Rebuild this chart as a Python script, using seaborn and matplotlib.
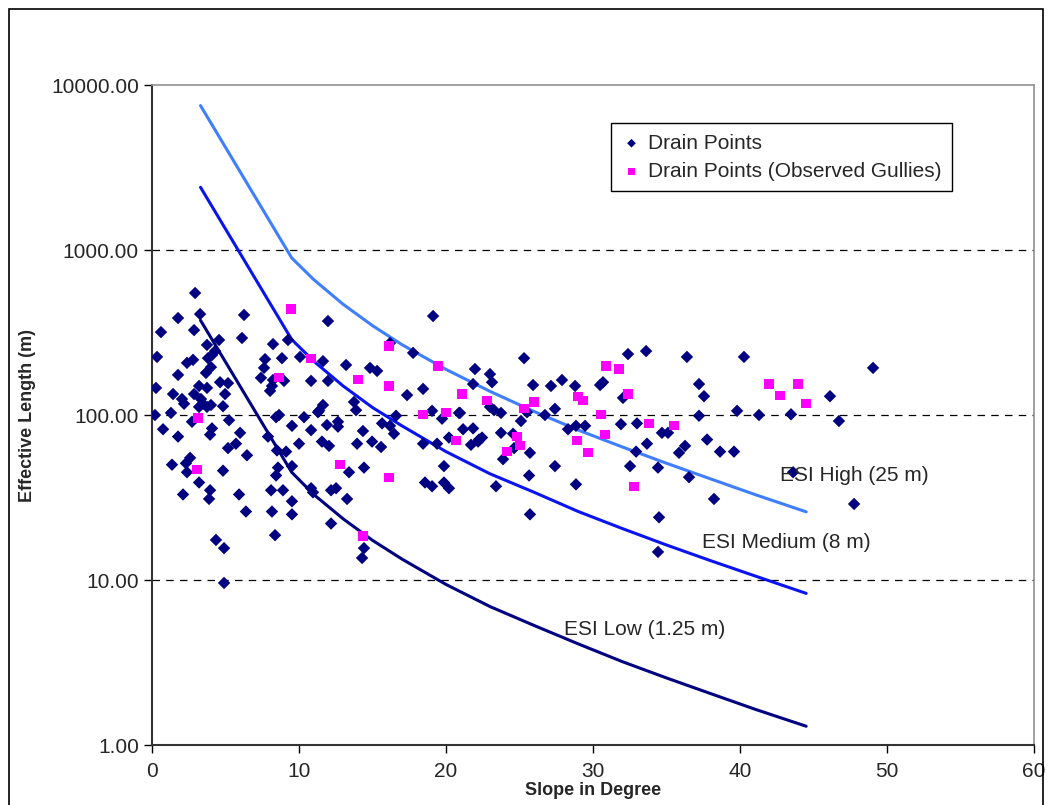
import numpy as np
import pandas as pd
import matplotlib
matplotlib.use("Agg")
import matplotlib.pyplot as plt
import seaborn as sns
from matplotlib.patches import Rectangle
from matplotlib.ticker import FixedLocator, FuncFormatter

# Drain points (slope in degree, effective length in m)
drain_slope = [
    2.93, 1.77, 3.27, 6.26, 0.61, 2.86, 6.12, 4.56, 3.74, 4.29, 4.08, 3.81, 8.23, 9.25, 0.34,
    2.79, 2.38, 4.01, 1.77, 3.67, 7.69, 8.84, 10.07, 7.62, 7.41, 8.23, 8.16, 8.03, 8.98, 10.82,
    4.63, 5.17, 3.20, 3.74, 0.27, 1.43, 2.86, 4.97, 2.04, 2.18, 3.33, 3.47, 4.01, 3.20, 3.74,
    4.83, 0.20, 1.29, 8.44, 8.64, 10.34, 11.29, 0.75, 2.72, 4.08, 5.24, 9.52, 1.77, 3.95, 5.99,
    10.82, 5.71, 5.17, 10.00, 8.50, 6.46, 7.89, 9.12, 1.36, 2.31, 2.59, 2.38, 3.20, 4.83, 8.57,
    9.52, 8.44, 2.11, 3.95, 3.88, 5.92, 8.10, 8.91, 9.52, 6.39, 8.16, 9.52, 8.37, 4.35, 4.90,
    4.90, 10.82, 11.97, 19.12, 16.19, 17.76, 11.63, 13.20, 14.83, 15.31, 21.97, 11.97, 18.44, 17.35, 21.84,
    11.63, 11.36, 13.74, 13.88, 16.60, 19.05, 19.73, 20.88, 11.90, 12.65, 12.65, 14.35, 15.65, 16.19, 16.46,
    21.16, 21.84, 11.56, 12.04, 13.95, 14.97, 15.58, 18.44, 19.39, 20.20, 21.70, 22.24, 13.40, 14.42, 19.86,
    18.57, 19.05, 19.86, 20.20, 10.95, 12.18, 12.52, 13.27, 12.18, 14.42, 14.29, 25.31, 32.38, 22.99, 23.13,
    25.92, 27.14, 27.89, 28.78, 30.68, 30.48, 32.04, 20.95, 22.99, 23.27, 23.74, 25.51, 27.41, 26.73, 25.10,
    23.74, 24.56, 28.30, 28.84, 29.46, 31.90, 32.99, 22.45, 22.18, 24.63, 23.88, 25.71, 27.41, 25.65, 28.84,
    23.40, 32.52, 32.93, 33.61, 36.39, 40.27, 37.21, 37.55, 37.21, 39.80, 41.29, 43.47, 34.69, 35.10, 33.67,
    36.26, 35.85, 37.76, 38.64, 39.59, 34.42, 36.53, 38.23, 43.61, 49.05, 46.12, 46.73, 47.76, 25.71, 34.49,
    34.42,
]
drain_length = [
    549, 387, 409, 404, 318, 327, 293, 285, 266, 244, 231, 221, 269, 285, 225,
    216, 207, 195, 175, 180, 218, 221, 225, 193, 168, 163, 150, 140, 161, 161,
    158, 156, 150, 146, 146, 134, 134, 134, 125, 117, 125, 117, 115, 112, 112,
    113, 100, 103, 97, 100, 97, 104, 82, 91, 83, 93, 86, 74, 76, 78,
    81, 67, 63, 67, 61, 57, 74, 60, 50, 51, 55, 45, 39, 46, 48,
    49, 43, 33, 35, 31, 33, 35, 35, 30, 26, 26, 25, 18.7, 17.5, 15.6,
    9.6, 36, 371, 398, 273, 238, 212, 201, 193, 185, 190, 161, 144, 132, 154,
    115, 106, 120, 107, 99, 106, 95, 103, 87, 91, 85, 80, 89, 86, 77,
    82, 83, 69, 65, 67, 69, 64, 67, 67, 73, 66, 71, 45, 48, 49,
    39, 37, 39, 36, 34, 35, 36, 31, 22, 15.6, 13.6, 221, 234, 177, 158,
    152, 150, 163, 150, 158, 152, 127, 103, 112, 107, 103, 104, 109, 100, 92,
    78, 77, 82, 86, 86, 88, 89, 73, 69, 63, 54, 59, 49, 43, 38,
    37, 49, 60, 244, 225, 225, 154, 130, 99, 106, 100, 101, 78, 78, 67,
    65, 59, 71, 60, 60, 48, 42, 31, 45, 193, 130, 92, 28.9, 25, 24,
    14.8,
]

# Drain points at observed gullies
gully_slope = [
    9.46, 10.82, 8.64, 3.13, 3.06, 16.12, 14.01, 16.12, 19.46, 21.09, 18.44, 20.00, 20.68,
    12.79, 16.12, 14.35, 22.79, 25.31, 25.99, 30.88, 31.77, 28.98, 29.32, 32.38, 30.54,
    30.82, 24.83, 25.03, 24.15, 28.91, 29.66, 32.79, 33.81, 35.51, 41.97, 42.72, 43.95, 44.49,
]
gully_length = [
    439, 221, 168, 96, 47, 262, 165, 150, 198, 134, 101, 104, 70,
    50, 42, 18.5, 122, 110, 120, 198, 190, 130, 122, 134, 101,
    76, 74, 65, 60, 70, 59, 37, 89, 86, 154, 132, 154, 118,
]

# ESI threshold curves
esi_slope = [3.3, 9.5, 11, 13, 15, 17, 20, 23, 26, 29, 32, 35, 38, 41, 44.5]
esi_high = [7500, 896, 662, 469, 348, 267, 189, 139, 105, 81, 64, 51, 41, 33, 25.9]
esi_medium = [2400, 287, 212, 150, 111, 86, 60, 44, 34, 26, 20.5, 16.3, 13.1, 10.6, 8.3]
esi_low = [375, 45, 33, 23.5, 17.4, 13.4, 9.4, 6.9, 5.3, 4.1, 3.2, 2.55, 2.05, 1.65, 1.3]

df_drain = pd.DataFrame({'Slope': drain_slope, 'Length': drain_length})
df_gully = pd.DataFrame({'Slope': gully_slope, 'Length': gully_length})

sns.set_style("white")
plt.rcParams['font.family'] = ['Liberation Sans', 'DejaVu Sans']

fig = plt.figure(figsize=(10.52, 8.05), dpi=100)
ax = fig.add_axes([0.1445, 0.0745, 0.8384, 0.8199])

# outer chart frame (bottom edge runs off the image, as in the original)
fig.patches.append(Rectangle((9 / 1052, -4 / 805), 1034 / 1052, 800 / 805,
                             transform=fig.transFigure, fill=False,
                             edgecolor='black', linewidth=1.2))

sns.lineplot(x=esi_slope, y=esi_high, color='#3f7fff', linewidth=2.2, ax=ax, legend=False)
sns.lineplot(x=esi_slope, y=esi_medium, color='#0a14f0', linewidth=2.2, ax=ax, legend=False)
sns.lineplot(x=esi_slope, y=esi_low, color='#000080', linewidth=2.2, ax=ax, legend=False)

sns.scatterplot(data=df_drain, x='Slope', y='Length', marker='D', color='#000080',
                s=40, edgecolor='none', ax=ax, label='Drain Points', zorder=3)
sns.scatterplot(data=df_gully, x='Slope', y='Length', marker='s', color='#ff00ff',
                s=44, edgecolor='none', ax=ax, label='Drain Points (Observed Gullies)', zorder=4)

ax.set_yscale('log')
ax.set_xlim(0, 60)
ax.set_ylim(1, 10000)
ax.set_xticks(range(0, 61, 10))
ax.yaxis.set_major_locator(FixedLocator([1, 10, 100, 1000, 10000]))
ax.yaxis.set_minor_locator(FixedLocator([]))
ax.yaxis.set_major_formatter(FuncFormatter(lambda v, p: f'{v:.2f}'))
ax.tick_params(axis='both', labelsize=15, direction='out', length=6, width=1, color='black',
               left=True, bottom=True)
ax.tick_params(axis='x', pad=6)

for yv in [10, 100, 1000]:
    ax.axhline(yv, color='black', linestyle=(0, (6, 5)), linewidth=0.9, zorder=1)

for s in ['left', 'bottom']:
    ax.spines[s].set_color('#333333')
    ax.spines[s].set_linewidth(1.5)
for s in ['top', 'right']:
    ax.spines[s].set_color('#909090')
    ax.spines[s].set_linewidth(1.2)

ax.set_xlabel('Slope in Degree', fontsize=13, fontweight='bold', labelpad=1)
ax.set_ylabel('Effective Length (m)', fontsize=13, fontweight='bold', labelpad=11)

ax.text(42.7, 43, 'ESI High (25 m)', fontsize=15, va='center', ha='left')
ax.text(37.4, 16.8, 'ESI Medium (8 m)', fontsize=15, va='center', ha='left')
ax.text(28.0, 5.0, 'ESI Low (1.25 m)', fontsize=15, va='center', ha='left')

leg = ax.legend(loc='upper left', bbox_to_anchor=(0.520, 0.942), borderaxespad=0,
                fontsize=15, frameon=True, fancybox=False, edgecolor='black', framealpha=1,
                handletextpad=0.3, handlelength=1.0, borderpad=0.5, labelspacing=0.45,
                markerscale=0.7)
leg.get_frame().set_linewidth(1.0)

plt.savefig('out.png', dpi=100)
